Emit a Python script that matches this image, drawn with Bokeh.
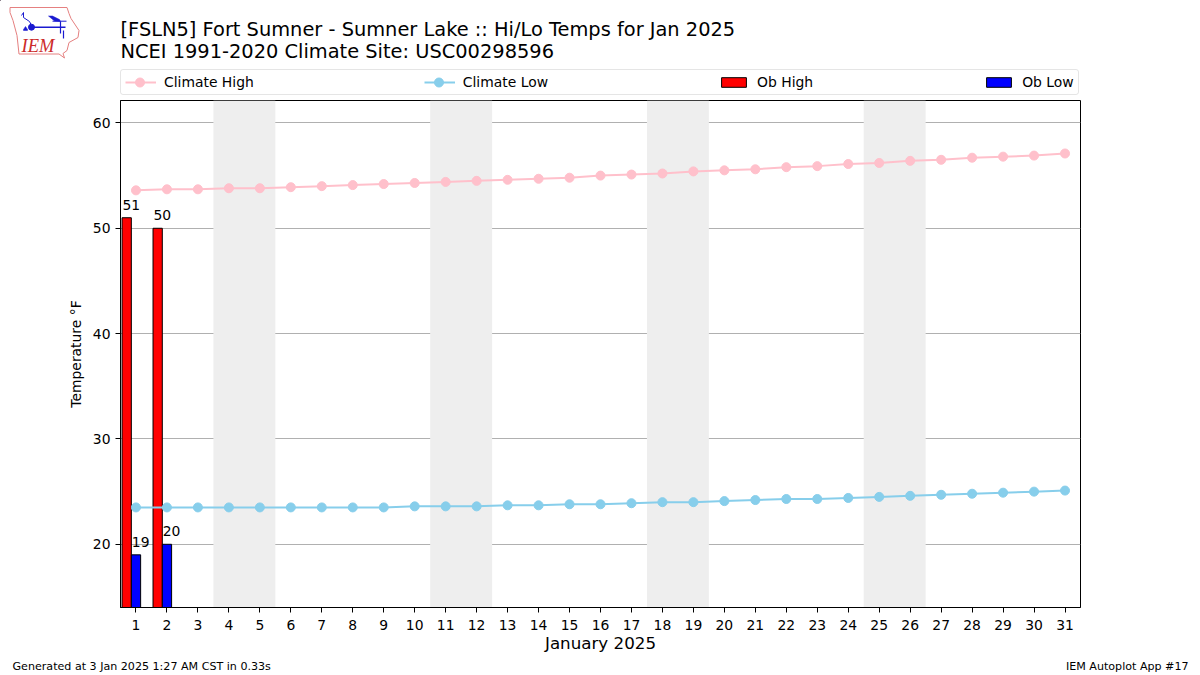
from bokeh.plotting import figure
from bokeh.layouts import column
from bokeh.models import (ColumnDataSource, Range1d, FixedTicker, Legend, LegendItem, BoxAnnotation)
from bokeh.core.properties import value
from bokeh.embed import file_html
from bokeh.resources import INLINE

days = list(range(1, 32))
climate_high = [53.6,53.7,53.7,53.8,53.8,53.9,54.0,54.1,54.2,54.3,54.4,54.5,54.6,54.7,54.8,55.0,
                55.1,55.2,55.4,55.5,55.6,55.8,55.9,56.1,56.2,56.4,56.5,56.7,56.8,56.9,57.1]
climate_low = [23.5,23.5,23.5,23.5,23.5,23.5,23.5,23.5,23.5,23.6,23.6,23.6,23.7,23.7,23.8,23.8,
               23.9,24.0,24.0,24.1,24.2,24.3,24.3,24.4,24.5,24.6,24.7,24.8,24.9,25.0,25.1]
ob_days = [1, 2]
ob_high = [51, 50]
ob_low = [19, 20]
weekends = [(3.5, 5.5), (10.5, 12.5), (17.5, 19.5), (24.5, 26.5)]
y_ticks = [20, 30, 40, 50, 60]
title_lines = ["[FSLN5] Fort Sumner - Sumner Lake :: Hi/Lo Temps for Jan 2025",
               "NCEI 1991-2020 Climate Site: USC00298596"]
footer_left = "Generated at 3 Jan 2025 1:27 AM CST in 0.33s"
footer_right = "IEM Autoplot App #17"
FONT = "DejaVu Sans"
W = 1200
HEAD_H = 98
MAIN_H = 557
FOOT_H = 20


def strip(height):
    f = figure(width=W, height=height, output_backend="svg", toolbar_location=None,
               x_range=Range1d(0, W), y_range=Range1d(height, 0),
               x_axis_location=None, y_axis_location=None, frame_align=False,
               min_border=0, min_border_left=0, min_border_right=0, min_border_top=0, min_border_bottom=0)
    f.grid.visible = False
    f.outline_line_color = None
    return f


# ---- header: logo, title, legend ----
head = strip(HEAD_H)
head.text(x=[120, 120], y=[29, 51], text=title_lines, text_font=value(FONT), text_font_size="19.4px",
          text_color="black", text_align="left", text_baseline="alphabetic")
outline_x = [9.5,66.5,68.5,70.5,78.5,77.5,68.5,66.5,62.5,64,58.5,18.5,16.5,12.5,9.5]
outline_y = [7,7,13,18,30,37,42,50,53,57.5,53.5,53.5,35,20,12]
head.patch(outline_x, outline_y, fill_alpha=0, line_color="#e58080", line_width=1)
for xs, ys, lw in (([32, 65], [26.7, 26.7], 1.6),
                   ([52, 66], [20.7, 20.7], 1),
                   ([60, 60], [21, 33], 1.2),
                   ([63, 63], [30, 38], 1.2),
                   ([21, 23, 23, 29, 31], [15, 12, 17, 21, 25], 1)):
    head.line(xs, ys, line_color="#1a1ad0", line_width=lw)
head.patch([48, 52, 59, 60, 54], [15.5, 15.5, 19, 21, 20.5], fill_color="#1a1ad0", line_color="#1a1ad0", line_width=0.5)
head.patch([23, 25, 27, 27, 23], [29, 26, 29, 30, 30], fill_color="#1a1ad0", line_color="#1a1ad0", line_width=0.5)
head.scatter([31], [26.7], size=6, fill_color="#1a1ad0", line_color="#1a1ad0")
head.text(x=[21], y=[45], text=["IEM"], text_font=value("Liberation Serif"), text_font_style="italic",
          text_font_size="18.5px", text_color="#cc2a2a", text_align="left", text_baseline="alphabetic")

# legend keys: off-view samples that only give the legend its line and bar styles
k1 = head.line([-50, -40], [-50, -40], line_color="pink", line_width=2)
k2 = head.line([-50, -40], [-50, -40], line_color="skyblue", line_width=2)
k3 = head.vbar(x=[-50], top=[-40], bottom=[-50], width=1, fill_color="red", line_color="black", line_width=1)
k4 = head.vbar(x=[-50], top=[-40], bottom=[-50], width=1, fill_color="blue", line_color="black", line_width=1)
legend = Legend(items=[LegendItem(label="Climate High", renderers=[k1]),
                       LegendItem(label="Climate Low", renderers=[k2]),
                       LegendItem(label="Ob High", renderers=[k3]),
                       LegendItem(label="Ob Low", renderers=[k4])],
                orientation="horizontal", location=(120, 3), spacing=170, padding=4, margin=0,
                glyph_width=31, glyph_height=12, label_standoff=8,
                label_text_font=FONT, label_text_font_size="13.9px", label_text_color="black",
                border_line_color="#cccccc", border_line_width=1, border_radius=3,
                background_fill_alpha=0)
head.add_layout(legend, "center")
head.scatter([139.5], [82], size=9, fill_color="pink", line_color="pink")
head.scatter([438.5], [82], size=9, fill_color="skyblue", line_color="skyblue")

# ---- main plot ----
p = figure(width=W, height=MAIN_H, output_backend="svg", toolbar_location=None,
           x_range=Range1d(0.5, 31.5), y_range=Range1d(14, 62.13), frame_align=False,
           min_border_left=120, min_border_right=120, min_border_top=100 - HEAD_H,
           min_border_bottom=MAIN_H - (608 - HEAD_H))
p.outline_line_color = "black"
p.outline_line_width = 1

for a, b in weekends:
    p.add_layout(BoxAnnotation(left=a, right=b, fill_color="#eeeeee", fill_alpha=1.0,
                               line_color=None, level="underlay"))

p.xgrid.visible = False
p.ygrid.ticker = FixedTicker(ticks=y_ticks)
p.ygrid.grid_line_color = "#b0b0b0"
p.ygrid.grid_line_width = 1
p.ygrid.level = "underlay"

for ax, ticks in ((p.xaxis[0], days), (p.yaxis[0], y_ticks)):
    ax.ticker = FixedTicker(ticks=ticks)
    ax.major_tick_in = 0
    ax.major_tick_out = 5
    ax.minor_tick_line_color = None
    ax.axis_line_color = "black"
    ax.major_label_text_font = FONT
    ax.major_label_text_font_size = "13.9px"
    ax.major_label_text_color = "black"
    ax.axis_label_text_font = FONT
    ax.axis_label_text_font_style = "normal"
    ax.axis_label_text_color = "black"
p.xaxis[0].major_label_standoff = 7
p.xaxis[0].axis_label = "January 2025"
p.xaxis[0].axis_label_text_font_size = "16.7px"
p.xaxis[0].axis_label_standoff = 0
p.yaxis[0].axis_label = "Temperature \u00b0F"
p.yaxis[0].axis_label_text_font_size = "13.9px"
p.yaxis[0].axis_label_standoff = 6
p.yaxis[0].major_label_standoff = 5

src = ColumnDataSource(dict(x=days, hi=climate_high, lo=climate_low))
obs = ColumnDataSource(dict(
    hx=[d - 0.3 for d in ob_days], lx=list(ob_days), hi=ob_high, lo=ob_low,
    hl=[str(v) for v in ob_high], ll=[str(v) for v in ob_low],
    htx=[d - 0.15 for d in ob_days], ltx=[d + 0.15 for d in ob_days]))

p.vbar(x="hx", top="hi", bottom=14, width=0.3, source=obs, fill_color="red", line_color="black", line_width=1)
p.vbar(x="lx", top="lo", bottom=14, width=0.3, source=obs, fill_color="blue", line_color="black", line_width=1)

p.line("x", "hi", source=src, line_color="pink", line_width=2)
p.scatter("x", "hi", source=src, size=9, fill_color="pink", line_color="pink")
p.line("x", "lo", source=src, line_color="skyblue", line_width=2)
p.scatter("x", "lo", source=src, size=9, fill_color="skyblue", line_color="skyblue")

for xcol, ycol, tcol in (("htx", "hi", "hl"), ("ltx", "lo", "ll")):
    p.text(x=xcol, y=ycol, text=tcol, source=obs, text_align="center", text_baseline="alphabetic",
           text_font_size="13.9px", text_color="black", y_offset=-13, text_font=value(FONT))

# ---- footer ----
foot = strip(FOOT_H)
foot.text(x=[12, 1188], y=[11, 11], text=[footer_left, footer_right], text_font=value(FONT),
          text_font_size="11.1px", text_color="black", text_align=["left", "right"], text_baseline="alphabetic")

page = column(head, p, foot, spacing=0)
open("out.html", "w").write(file_html(page, INLINE))
